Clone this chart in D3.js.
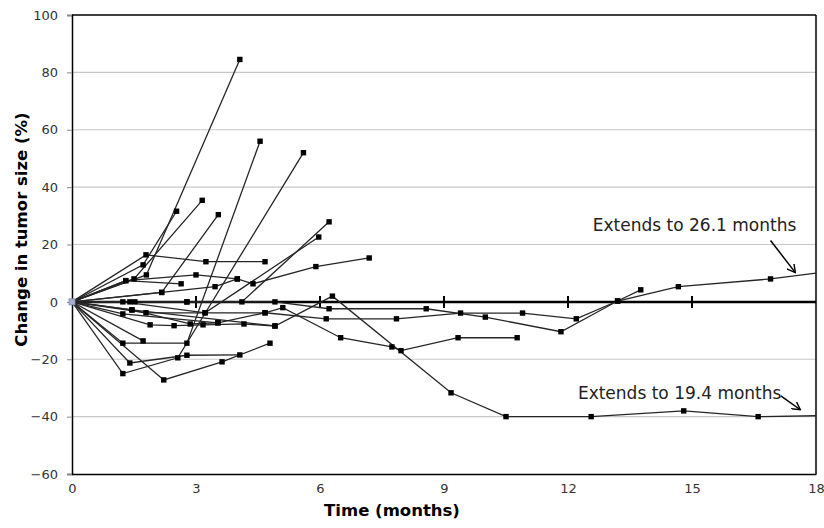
<!DOCTYPE html>
<html>
<head>
<meta charset="utf-8">
<script src="https://cdn.jsdelivr.net/npm/d3@7"></script>
<style>
  body { margin: 0; background: #fff; }
  #chart text { font-family: "DejaVu Sans", sans-serif; }
</style>
</head>
<body>
<div id="chart"></div>
<script>
// each patient: [months, % change]
var p01 = [[0,0],[1.79,16.4],[3.24,14],[4.67,14]];
var p02 = [[0,0],[1.8,9.4],[4.06,84.5]];
var p03 = [[0,0],[1.72,12.9],[2.53,31.6]];
var p04 = [[0,0],[1.5,8],[3.15,35.4]];
var p05 = [[0,0],[2.17,3.3],[3.54,30.4]];
var p06 = [[0,0],[1.3,7.4],[3.0,9.4],[4.0,8],[4.38,6.3],[5.9,12.3],[7.19,15.3]];
var p07 = [[0,0],[1.4,0],[2.78,0],[4.11,0],[6.22,27.9]];
var p08 = [[0,0],[1.23,0],[3.22,-3.8],[5.97,22.6]];
var p09 = [[0,0],[1.23,-14.4],[2.78,-14.4],[4.55,56]];
var p10 = [[0,0],[1.23,-25],[2.56,-19.5],[5.6,52]];
var p11 = [[0,0],[1.72,-13.6]];
var p12 = [[0,0],[1.4,-21.3],[2.78,-18.6],[4.06,-18.5]];
var p13 = [[0,0],[2.22,-27.2],[3.63,-20.9],[4.79,-14.4]];
var p14 = [[0,0],[1.89,-8],[2.47,-8.3],[3.17,-8],[4.16,-7.7],[4.91,-8.4],[6.3,2],[9.17,-31.7],[10.5,-40],[12.56,-40],[14.8,-38],[16.6,-40],[18,-39.7]];
var p15 = [[0,0],[1.79,-3.8],[3.22,-3.8],[4.67,-3.8],[5.1,-2],[6.5,-12.5],[7.74,-15.7],[7.96,-17],[9.34,-12.5],[10.77,-12.5]];
var p16 = [[0,0],[1.45,-2.8],[2.86,-7.7],[3.53,-7.3]];
var p17 = [[0,0],[1.52,0],[2.78,0],[4.91,0],[6.22,-2.4],[8.57,-2.4],[10.0,-5.3],[11.83,-10.4],[13.2,0.3],[14.67,5.3],[16.9,8],[18,10]];
var p18 = [[0,0],[1.23,-4.2],[3.53,-7.3],[4.67,-3.8],[6.15,-5.9],[7.85,-5.9],[9.4,-3.9],[10.9,-3.9],[12.2,-5.9],[13.2,0.3],[13.76,4.2]];
var p19 = [[0,0],[1.3,7.4],[2.64,6.3]];
var p20 = [[0,0],[2.17,3.3],[3.46,5.3],[4.0,8]];
var p21 = [[0,0],[1.45,-2.8],[4.91,-8.4]];
var patients = [p01,p02,p03,p04,p05,p06,p07,p08,p09,p10,p11,p12,p13,p14,p15,p16,p17,p18,p19,p20,p21];

var xTicks = [0, 3, 6, 9, 12, 15, 18];
var yTicks = [-60, -40, -20, 0, 20, 40, 60, 80, 100];

var notes = [
    {text: 'Extends to 26.1 months', t: 12.6, v: 24.7, from: [16.9, 21.4], to: [17.5, 10.2]},
    {text: 'Extends to 19.4 months', t: 12.24, v: -34, from: [17.15, -32.8], to: [17.62, -37.6]}
];

var W = 824, H = 528;
var margin = {top: 15, right: 8, bottom: 54, left: 72};
var width = W - margin.left - margin.right;
var height = H - margin.top - margin.bottom;

var svg = d3.select('#chart').append('svg')
    .attr('width', W)
    .attr('height', H);

svg.append('defs').append('clipPath').attr('id', 'plotclip')
    .append('rect').attr('width', width).attr('height', height);

var g = svg.append('g').attr('transform', 'translate(' + margin.left + ',' + margin.top + ')');

var x = d3.scaleLinear().domain([0, 18]).range([0, width]);
var y = d3.scaleLinear().domain([-60, 100]).range([height, 0]);

// gridlines
g.selectAll('.grid').data(yTicks.filter(function(d) { return d != 0 && d != -60 && d != 100; }))
    .enter().append('line')
    .attr('x1', 0).attr('x2', width)
    .attr('y1', function(d) { return y(d); }).attr('y2', function(d) { return y(d); })
    .attr('stroke', '#c8c8c8').attr('stroke-width', 1.2);

// frame (top / right)
g.append('line').attr('x1', 0).attr('x2', width).attr('y1', 0).attr('y2', 0)
    .attr('stroke', '#000').attr('stroke-width', 1.5);
g.append('line').attr('x1', width).attr('x2', width).attr('y1', 0).attr('y2', height)
    .attr('stroke', '#000').attr('stroke-width', 1.5);

// y axis
var yAxis = g.append('g')
    .call(d3.axisLeft(y).tickValues(yTicks).tickSize(5).tickPadding(9));
yAxis.select('.domain').attr('stroke', '#000').attr('stroke-width', 1.5);
yAxis.selectAll('.tick line').attr('stroke', '#888');
yAxis.selectAll('text').style('font-size', '13px').attr('fill', '#333');

// x axis (bottom, labels only)
var xAxis = g.append('g').attr('transform', 'translate(0,' + height + ')')
    .call(d3.axisBottom(x).tickValues(xTicks).tickSize(0).tickPadding(10));
xAxis.select('.domain').attr('stroke', '#000').attr('stroke-width', 1.5);
xAxis.selectAll('text').style('font-size', '13px').attr('fill', '#333');

// zero line with ticks
var zero = g.append('g').attr('transform', 'translate(0,' + y(0) + ')');
zero.append('line').attr('x1', 0).attr('x2', width)
    .attr('stroke', '#000').attr('stroke-width', 2.5);
zero.selectAll('.zt').data(xTicks.slice(1, -1)).enter().append('line')
    .attr('x1', function(d) { return x(d); }).attr('x2', function(d) { return x(d); })
    .attr('y1', -6).attr('y2', 6)
    .attr('stroke', '#000').attr('stroke-width', 2);

// series
var line = d3.line()
    .x(function(d) { return x(d[0]); })
    .y(function(d) { return y(d[1]); });

var plot = g.append('g').attr('clip-path', 'url(#plotclip)');
plot.selectAll('.pt').data(patients).enter().append('path')
    .attr('d', line)
    .attr('fill', 'none')
    .attr('stroke', '#262626')
    .attr('stroke-width', 1.3);

patients.forEach(function(p) {
    g.selectAll(null).data(p.filter(function(d) { return d[0] > 0 && d[0] < 18; }))
        .enter().append('rect')
        .attr('x', function(d) { return x(d[0]) - 2.7; })
        .attr('y', function(d) { return y(d[1]) - 2.7; })
        .attr('width', 5.4).attr('height', 5.4)
        .attr('fill', '#000');
});
g.append('rect')
    .attr('x', x(0) - 3).attr('y', y(0) - 3).attr('width', 6).attr('height', 6)
    .attr('fill', '#a9b0cc').attr('stroke', '#7d86a8').attr('stroke-width', 0.8);

// annotations
var defs = svg.select('defs');
defs.append('marker').attr('id', 'arr')
    .attr('viewBox', '0 0 10 10').attr('refX', 9).attr('refY', 5)
    .attr('markerWidth', 9).attr('markerHeight', 9).attr('orient', 'auto')
    .attr('markerUnits', 'userSpaceOnUse')
    .append('path').attr('d', 'M0,0 L9,5 L0,10').attr('fill', 'none')
    .attr('stroke', '#000').attr('stroke-width', 1.6);

notes.forEach(function(n) {
    g.append('text')
        .attr('x', x(n.t)).attr('y', y(n.v))
        .style('font-size', '17px').attr('fill', '#222')
        .text(n.text);
    g.append('line')
        .attr('x1', x(n.from[0])).attr('y1', y(n.from[1]))
        .attr('x2', x(n.to[0])).attr('y2', y(n.to[1]))
        .attr('stroke', '#000').attr('stroke-width', 1.5)
        .attr('marker-end', 'url(#arr)');
});

// axis titles
svg.append('text')
    .attr('transform', 'translate(27,' + (margin.top + y(20) - 15) + ') rotate(-90)')
    .attr('text-anchor', 'middle')
    .style('font-size', '16.5px').style('font-weight', 'bold')
    .text('Change in tumor size (%)');
svg.append('text')
    .attr('x', margin.left + width / 2 - 52).attr('y', H - 12)
    .attr('text-anchor', 'middle')
    .style('font-size', '16.5px').style('font-weight', 'bold')
    .text('Time (months)');
</script>
</body>
</html>
